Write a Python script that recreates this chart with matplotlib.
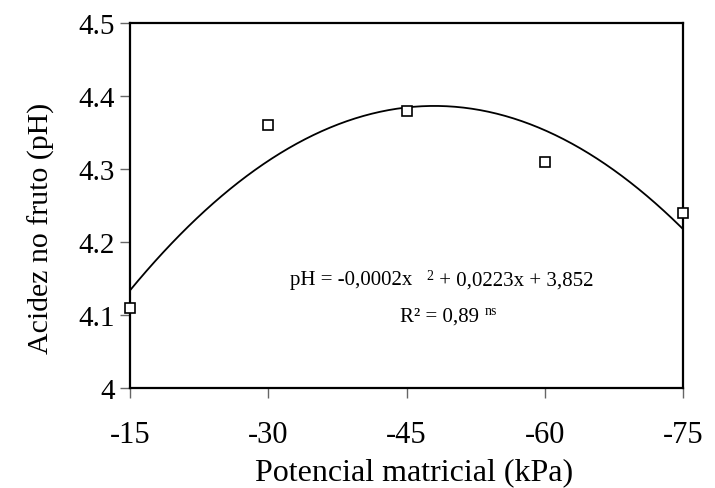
import numpy as np
import matplotlib.pyplot as plt

plt.rcParams['font.family'] = ['Liberation Serif', 'DejaVu Serif']

# potencial matricial (kPa) e acidez medida
potencial = [-15, -30, -45, -60, -75]
ph = [4.11, 4.36, 4.38, 4.31, 4.24]
xticks = [-15, -30, -45, -60, -75]
yticks = [4.0, 4.1, 4.2, 4.3, 4.4, 4.5]
ylabels = ['4', '4.1', '4.2', '4.3', '4.4', '4.5']

fig = plt.figure(figsize=(7.15, 4.89), dpi=100)
ax = fig.add_axes([130 / 715, 1 - 389 / 489, 553 / 715, 365 / 489])

# linha de tendencia polinomial (ordem 2), ajustada aos pontos
xpos = -np.array(potencial, dtype=float)
coef = np.polyfit(xpos, ph, 2)
xx = np.linspace(15, 75, 200)
ax.plot(-xx, np.polyval(coef, xx), color='black', lw=1.3, zorder=2)

ax.plot(potencial, ph, linestyle='none', marker='s', markersize=7,
        markerfacecolor='white', markeredgecolor='black', markeredgewidth=1.2,
        clip_on=False, zorder=3)

ax.set_xlim(-15, -75)
ax.set_ylim(4.0, 4.5)
ax.set_xticks(xticks)
ax.set_xticklabels([str(v) for v in xticks])
ax.set_yticks(yticks)
ax.set_yticklabels(ylabels)
ax.tick_params(axis='both', direction='out', length=7, width=1, color='#666666',
               labelsize=21)
ax.tick_params(axis='x', pad=16, labelsize=22)
ax.tick_params(axis='y', pad=4)
for s in ax.spines.values():
    s.set_linewidth(1.6)

ax.set_xlabel('Potencial matricial (kPa)', fontsize=23)
ax.set_ylabel('Acidez no fruto (pH)', fontsize=21.5)
ax.xaxis.set_label_coords((414 - 130) / 553, -(473 - 389) / 365)
ax.yaxis.set_label_coords(-(130 - 41) / 553, (389 - 228) / 365)
ax.xaxis.label.set_va('center')
ax.yaxis.label.set_va('center')

# equacao e R2
y_eq = 4.142
t1 = ax.text(-32.4, y_eq, 'pH = -0,0002x', fontsize=15, ha='left', va='baseline')
t2 = ax.annotate('2', xy=(1, y_eq), xycoords=(t1, 'data'), xytext=(10, 3.5),
                 textcoords='offset points', fontsize=10, ha='left', va='baseline')
ax.annotate(' + 0,0223x + 3,852', xy=(1, y_eq), xycoords=(t2, 'data'), xytext=(0, 0),
            textcoords='offset points', fontsize=15, ha='left', va='baseline')
y_r2 = 4.0925
r = ax.text(-44.3, y_r2, 'R² = 0,89', fontsize=15, ha='left', va='baseline')
ax.annotate('ns', xy=(1, y_r2), xycoords=(r, 'data'), xytext=(4, 5),
            textcoords='offset points', fontsize=10, ha='left', va='baseline')

fig.savefig('out.png', dpi=100)
